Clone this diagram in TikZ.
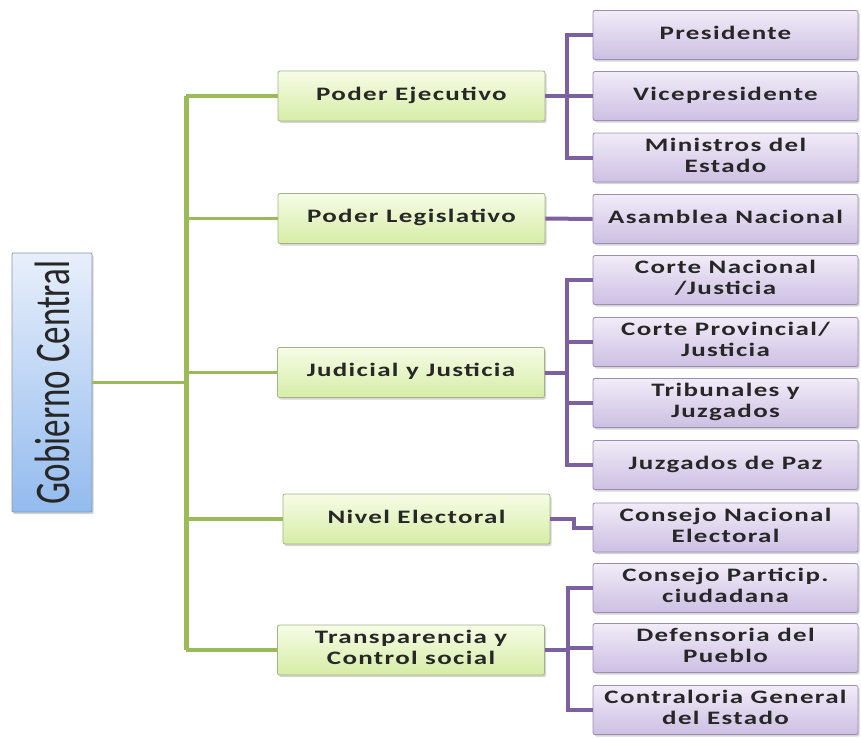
\documentclass[tikz,border=0pt]{standalone}
\usepackage{fontspec}
\setmainfont{Carlito}
\newfontfamily\lblfont[LetterSpace=5]{Carlito}
\usetikzlibrary{shadows}

\definecolor{branchgreen}{HTML}{9BBB59}
\definecolor{branchpurple}{HTML}{7D60A0}
\definecolor{greentop}{HTML}{F6FCE6}
\definecolor{greenbot}{HTML}{D6EDA6}
\definecolor{greenedge}{HTML}{A3B48A}
\definecolor{purptop}{HTML}{F1ECF8}
\definecolor{purpbot}{HTML}{CDBFE3}
\definecolor{purpedge}{HTML}{9C8DB3}
\definecolor{bluetop}{HTML}{E8EFFB}
\definecolor{bluebot}{HTML}{93BBEE}
\definecolor{blueedge}{HTML}{8797AE}
\definecolor{inktext}{HTML}{272727}

% box label: bold, letter-spaced and widened
\newcommand\boxlbl[1]{\scalebox{1.42}[1]{\lblfont\bfseries\fontsize{19}{21}\selectfont
  \begin{tabular}{@{}c@{}}#1\end{tabular}}}

\tikzset{
  boxshadow/.style={drop shadow={shadow xshift=1.5pt,shadow yshift=-2pt,opacity=0.28,fill=black!60}},
  rootbox/.style={draw=blueedge,line width=0.8pt,top color=bluetop,bottom color=bluebot,
    minimum width=80pt,minimum height=259pt,inner sep=0pt,boxshadow,rounded corners=1pt},
  midbox/.style={draw=greenedge,line width=0.8pt,top color=greentop,bottom color=greenbot,
    minimum width=267pt,minimum height=50pt,inner sep=0pt,boxshadow,rounded corners=2pt,
    text=inktext},
  leafbox/.style={draw=purpedge,line width=0.8pt,top color=purptop,bottom color=purpbot,
    minimum width=265pt,minimum height=49pt,inner sep=0pt,boxshadow,rounded corners=2pt,
    text=inktext},
  greenlink/.style={draw=branchgreen,line width=3.5pt},
  greentrunk/.style={draw=branchgreen,line width=5pt},
  purplelink/.style={draw=branchpurple,line width=4pt},
}

\begin{document}
\begin{tikzpicture}[x=1pt,y=-1pt]
\useasboundingbox (0,0) rectangle (861,737);

% root
\node[rootbox] (gc) at (52,382.5)
  {\rotatebox{90}{\scalebox{1}[1.42]{\fontsize{35}{35}\selectfont\color{inktext}Gobierno Central}}};

% second level
\node[midbox] (pe) at (411.5,96)  {\boxlbl{Poder Ejecutivo}};
\node[midbox] (pl) at (411.5,218.5) {\boxlbl{Poder Legislativo}};
\node[midbox] (jj) at (411,372.5) {\boxlbl{Judicial y Justicia}};
\node[midbox] (ne) at (416.5,519) {\boxlbl{Nivel Electoral}};
\node[midbox] (tc) at (411,650) {\boxlbl{Transparencia y\\Control social}};

% third level
\node[leafbox] (pres) at (725.5,35)    {\boxlbl{Presidente}};
\node[leafbox] (vice) at (725.5,96)    {\boxlbl{Vicepresidente}};
\node[leafbox] (mini) at (725.5,157.5) {\boxlbl{Ministros del\\Estado}};
\node[leafbox] (asam) at (725.5,219)   {\boxlbl{Asamblea Nacional}};
\node[leafbox] (cnj)  at (725.5,280)   {\boxlbl{Corte Nacional\\/Justicia}};
\node[leafbox] (cpj)  at (725.5,342)   {\boxlbl{Corte Provincial/\\Justicia}};
\node[leafbox] (tyj)  at (725.5,403)   {\boxlbl{Tribunales y\\Juzgados}};
\node[leafbox] (jdp)  at (725.5,465)   {\boxlbl{Juzgados de Paz}};
\node[leafbox] (cne)  at (725.5,527.5) {\boxlbl{Consejo Nacional\\Electoral}};
\node[leafbox] (cpc)  at (725.5,588)   {\boxlbl{Consejo Particip.\\ciudadana}};
\node[leafbox] (dp)   at (725.5,648)   {\boxlbl{Defensoria del\\Pueblo}};
\node[leafbox] (cge)  at (725.5,710)   {\boxlbl{Contraloria General\\del Estado}};

% green trunk and branches
\coordinate (ttop) at (186,96);
\coordinate (tbot) at (186,650);
\draw[greentrunk] (ttop) -- (tbot);
\draw[greenlink] (gc.east) -- (gc.east -| ttop);
\draw[greenlink] (ttop) -- (pe.west);
\draw[greenlink] (pl.west -| ttop) -- (pl.west);
\draw[greenlink] (jj.west -| ttop) -- (jj.west);
\draw[greenlink] (ne.west -| ttop) -- (ne.west);
\draw[greenlink] (tbot) -- (tc.west);

% purple branches
\foreach \c in {pres,vice,mini}
  \draw[purplelink] (pe.east) -- ++(22,0) |- (\c.west);
\draw[purplelink] (pl.east) -- (asam.west);
\foreach \c in {cnj,cpj,tyj,jdp}
  \draw[purplelink] (jj.east) -- ++(22,0) |- (\c.west);
\draw[purplelink] (ne.east) -- ++(24,0) |- (cne.west);
\foreach \c in {cpc,dp,cge}
  \draw[purplelink] (tc.east) -- ++(23,0) |- (\c.west);

\end{tikzpicture}
\end{document}
